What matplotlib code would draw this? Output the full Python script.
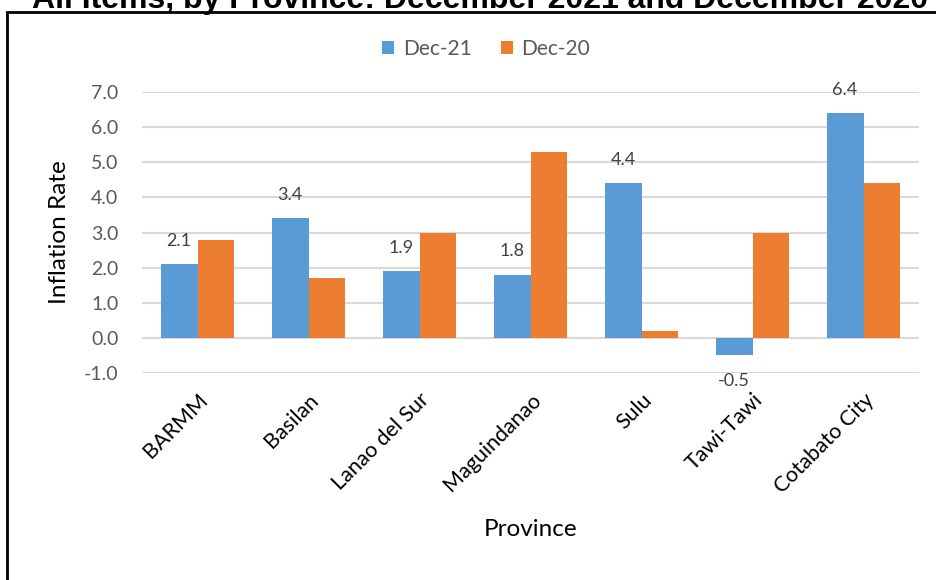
import numpy as np
import matplotlib.pyplot as plt
from matplotlib.patches import Rectangle

provinces = ['BARMM', 'Basilan', 'Lanao del Sur', 'Maguindanao', 'Sulu', 'Tawi-Tawi', 'Cotabato City']
dec21 = [2.1, 3.4, 1.9, 1.8, 4.4, -0.5, 6.4]
dec20 = [2.8, 1.7, 3.0, 5.3, 0.2, 3.0, 4.4]
yticks = [-1.0, 0.0, 1.0, 2.0, 3.0, 4.0, 5.0, 6.0, 7.0]

plt.rcParams['font.family'] = ['Lato', 'DejaVu Sans']

fig = plt.figure(figsize=(9.36, 5.8), dpi=100)
W, H = 936, 580
ax = fig.add_axes([142 / W, 1 - 373 / H, (919 - 142) / W, (373 - 92) / H])

x = np.arange(len(provinces))
w = 0.333
b1 = ax.bar(x - w / 2, dec21, w, color='#5b9bd5', label='Dec-21', zorder=3)
b2 = ax.bar(x + w / 2, dec20, w, color='#ed7d31', label='Dec-20', zorder=3)

# data labels for Dec-21 only
for xi, v in zip(x, dec21):
    off = 0.66 if v >= 0 else -0.72
    ax.text(xi - w / 2, v + off, f'{v:.1f}', ha='center', va='center',
            fontsize=13, color='#404040')

ax.set_xlim(-0.5, len(provinces) - 0.5)
ax.set_ylim(-1, 7)
ax.set_yticks(yticks)
ax.set_yticklabels([f'{t:.1f}' for t in yticks], fontsize=14, color='#595959')
ax.set_xticks(x)
ax.set_xticklabels(provinces, rotation=45, ha='right', rotation_mode='anchor',
                   fontsize=15.5, color='black')
ax.tick_params(length=0, pad=17)
ax.tick_params(axis='x', pad=12)
ax.grid(axis='y', color='#d9d9d9', linewidth=1.5, zorder=0)
for s in ax.spines.values():
    s.set_visible(False)

fig.text(59 / W, 1 - 232 / H, 'Inflation Rate', ha='center', va='center',
         rotation=90, fontsize=17.5)
fig.text(531 / W, 1 - 530 / H, 'Province', ha='center', va='center', fontsize=17.5)

leg = ax.legend(loc='center', bbox_to_anchor=(486 / W, 1 - 49 / H), bbox_transform=fig.transFigure,
                ncol=2, frameon=False, fontsize=15, handlelength=0.6, handleheight=0.6,
                columnspacing=1.4, handletextpad=0.4)
for t in leg.get_texts():
    t.set_color('#595959')

# chart border and clipped title
fig.patches.append(Rectangle((7 / W, -0.1), 1.0, 1 - 12 / H + 0.1, transform=fig.transFigure,
                             fill=False, edgecolor='black', linewidth=2))
fig.text(480 / W, 1 - 0 / H, 'All Items, by Province: December 2021 and December 2020',
         ha='center', va='center', fontsize=23, fontweight='bold',
         family='Liberation Sans', color='black')

fig.savefig('out.png', dpi=100)
